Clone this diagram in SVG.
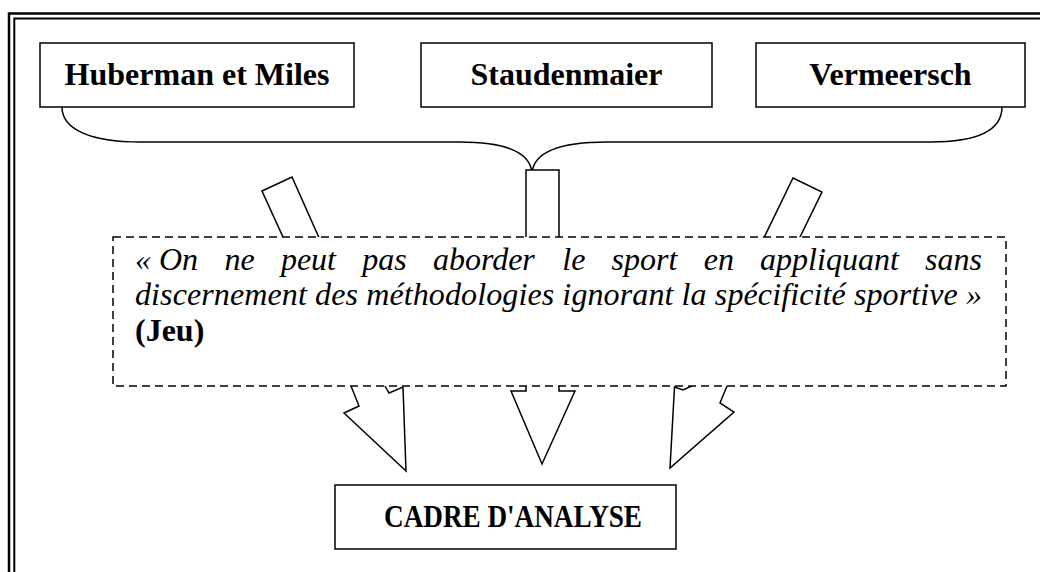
<svg xmlns="http://www.w3.org/2000/svg" width="1040" height="572" viewBox="0 0 1040 572">
<style>
.box{fill:#fff;stroke:#000;stroke-width:1.5}
.lbl{font-family:"Liberation Serif","Times New Roman",serif;font-weight:bold;font-size:32px;fill:#000;text-anchor:middle}
.q{font-family:"Liberation Serif","Times New Roman",serif;font-style:italic;font-size:32px;fill:#000}
.qb{font-family:"Liberation Serif","Times New Roman",serif;font-weight:bold;font-size:32px;fill:#000}
.ln{fill:none;stroke:#000;stroke-width:1.5}
.arr{fill:#fff;stroke:#000;stroke-width:1.5;stroke-linejoin:miter}
.frame{fill:none;stroke:#000}
</style>
<rect width="1040" height="572" fill="#fff"/>
<g id="frame">
<path class="frame" d="M9,572 V13.5 H1040" stroke-width="2.5"/>
<path class="frame" d="M14.3,572 V18.5 H1040" stroke-width="2"/>
</g>
<g id="connectors">
<path class="ln" d="M62,107 C62,130 92,142 140,142 L460,142 C500,142 530,150 532,173 C534,150 564,142 607,142 L930,142 C978,142 1002,130 1002,107"/>
<polygon class="arr" points="262,191 292,177 385,386 389,393 403,387 406,471 344,413 359,406 351,386"/>
<polygon class="arr" points="526,170 559,170 559,391 575,391 542,464 511,391 526,391"/>
<polygon class="arr" points="793,178 822,192 727,386 720,403 734,412 670,468 674.5,387 683,390 692,386"/>
</g>
<g id="huberman">
<rect class="box" x="40" y="43" width="314" height="64"/>
<text class="lbl" x="197" y="85">Huberman et Miles</text>
</g>
<g id="staudenmaier">
<rect class="box" x="421" y="43" width="291" height="64"/>
<text class="lbl" x="566.5" y="85">Staudenmaier</text>
</g>
<g id="vermeersch">
<rect class="box" x="756" y="43" width="269" height="64"/>
<text class="lbl" x="890.5" y="85">Vermeersch</text>
</g>
<g id="quote">
<rect x="113" y="237" width="893" height="149" fill="#fff" stroke="#000" stroke-width="1.5" stroke-dasharray="8 5"/>
<text class="q" y="270"><tspan x="135">« On</tspan><tspan x="224.4">ne</tspan><tspan x="280.9">peut</tspan><tspan x="362.2">pas</tspan><tspan x="432.9">aborder</tspan><tspan x="562.3">le</tspan><tspan x="611.6">sport</tspan><tspan x="703.7">en</tspan><tspan x="760.1">appliquant</tspan><tspan x="925.1">sans</tspan></text>
<text class="q" x="135" y="305" textLength="847" lengthAdjust="spacing">discernement des méthodologies ignorant la spécificité sportive »</text>
<text class="qb" x="135" y="341">(Jeu)</text>
</g>
<g id="cadre">
<rect class="box" x="335" y="485" width="341" height="64"/>
<text class="lbl" x="513" y="527" textLength="258" lengthAdjust="spacingAndGlyphs">CADRE D'ANALYSE</text>
</g>
</svg>
